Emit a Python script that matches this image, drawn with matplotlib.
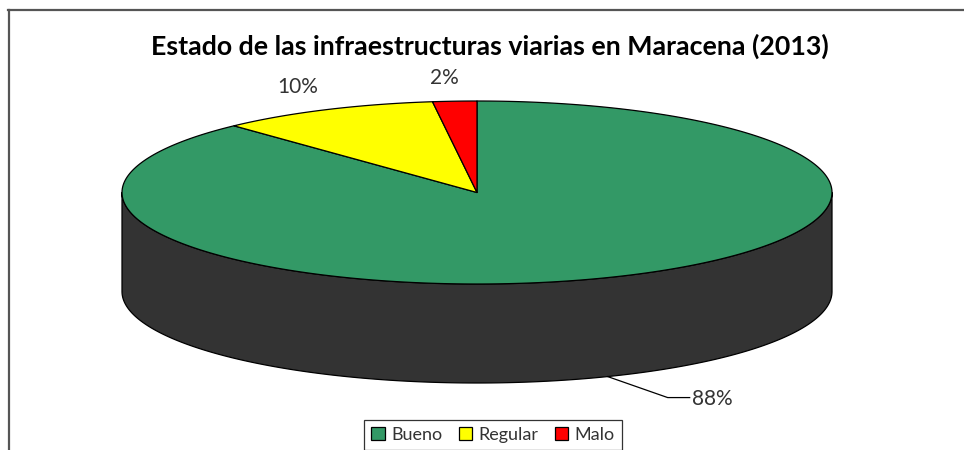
import numpy as np
import matplotlib
matplotlib.use("Agg")
import matplotlib.pyplot as plt
from matplotlib.patches import Polygon, Patch
from matplotlib.lines import Line2D

# Data
categories = ["Bueno", "Regular", "Malo"]
values = [88, 10, 2]
pct_labels = ["88%", "10%", "2%"]
colors = ["#339966", "#FFFF00", "#FF0000"]
title = "Estado de las infraestructuras viarias en Maracena (2013)"

# Label offsets (pixels) from the rim point at each slice's mid-angle
label_offsets = [(84, 22), (-28, -23), (-10, -23)]

W, H = 964, 450
fig = plt.figure(figsize=(W / 100, H / 100), dpi=100)
ax = fig.add_axes([0, 0, 1, 1])
ax.set_xlim(0, W)
ax.set_ylim(H, 0)
ax.axis("off")

FONT = "Lato"
TEXT_COLOR = "#333333"
SIDE_COLOR = "#333333"

# 3D pie geometry in pixel space
cx, cy, rx, ry, depth = 477, 192.5, 355, 91.5, 99


def rim(theta_deg, dz=0.0):
    t = np.radians(theta_deg)
    return cx + rx * np.cos(t), cy - ry * np.sin(t) + dz


# Slice angle intervals: clockwise from 12 o'clock
total = float(sum(values))
intervals = []
a = 90.0
for v in values:
    b = a - 360.0 * v / total
    intervals.append((b, a))
    a = b

# Visible side walls (front half of the cylinder)
for (b, a), col in zip(intervals, colors):
    for k in (-1, 0, 1):
        lo = max(b, 180 + 360 * k)
        hi = min(a, 360 + 360 * k)
        if hi <= lo:
            continue
        ts = np.linspace(lo, hi, 200)
        top = [rim(t) for t in ts]
        bot = [rim(t, depth) for t in ts[::-1]]
        ax.add_patch(Polygon(top + bot, closed=True, facecolor=SIDE_COLOR,
                             edgecolor="black", lw=0.9, joinstyle="round"))

# Top face wedges
for (b, a), col in zip(intervals, colors):
    ts = np.linspace(b, a, 300)
    verts = [(cx, cy)] + [rim(t) for t in ts]
    ax.add_patch(Polygon(verts, closed=True, facecolor=col,
                         edgecolor="black", lw=0.9, joinstyle="round"))

# Percentage labels
LABEL_SIZE = 15
for (b, a), lab, (dx, dy) in zip(intervals, pct_labels, label_offsets):
    m = (a + b) / 2.0
    front = np.sin(np.radians(m)) < 0
    if front:
        x0, y0 = rim(m, depth)
        ax.add_line(Line2D([x0, x0 + dx - 24, x0 + dx - 2],
                           [y0, y0 + dy - 1, y0 + dy - 1],
                           color="black", lw=0.9))
        ax.text(x0 + dx, y0 + dy, lab, ha="left", va="center",
                fontsize=LABEL_SIZE, family=FONT, color=TEXT_COLOR)
    else:
        x0, y0 = rim(m)
        ax.text(x0 + dx, y0 + dy, lab, ha="center", va="center",
                fontsize=LABEL_SIZE, family=FONT, color=TEXT_COLOR)

# Title
ax.text(490, 46, title, ha="center", va="center", fontsize=19.3,
        fontweight="bold", family=FONT, color="black")

# Chart frame (top and left edges)
ax.add_line(Line2D([8, W], [10, 10], color="#555555", lw=1.6))
ax.add_line(Line2D([9, 9], [10, H], color="#555555", lw=1.6))

# Legend
handles = [Patch(facecolor=c, edgecolor="black", lw=0.9) for c in colors]
leg = fig.legend(handles, categories, loc="center", ncol=3,
                 bbox_to_anchor=(493 / W, 1 - 435 / H),
                 frameon=True, fancybox=False, shadow=False,
                 prop={"family": FONT, "size": 13},
                 handlelength=0.75, handleheight=0.75, handletextpad=0.35,
                 columnspacing=0.9, borderpad=0.4, labelcolor=TEXT_COLOR)
leg.get_frame().set_edgecolor("black")
leg.get_frame().set_linewidth(0.9)

fig.savefig("out.png", dpi=100, facecolor="white")
